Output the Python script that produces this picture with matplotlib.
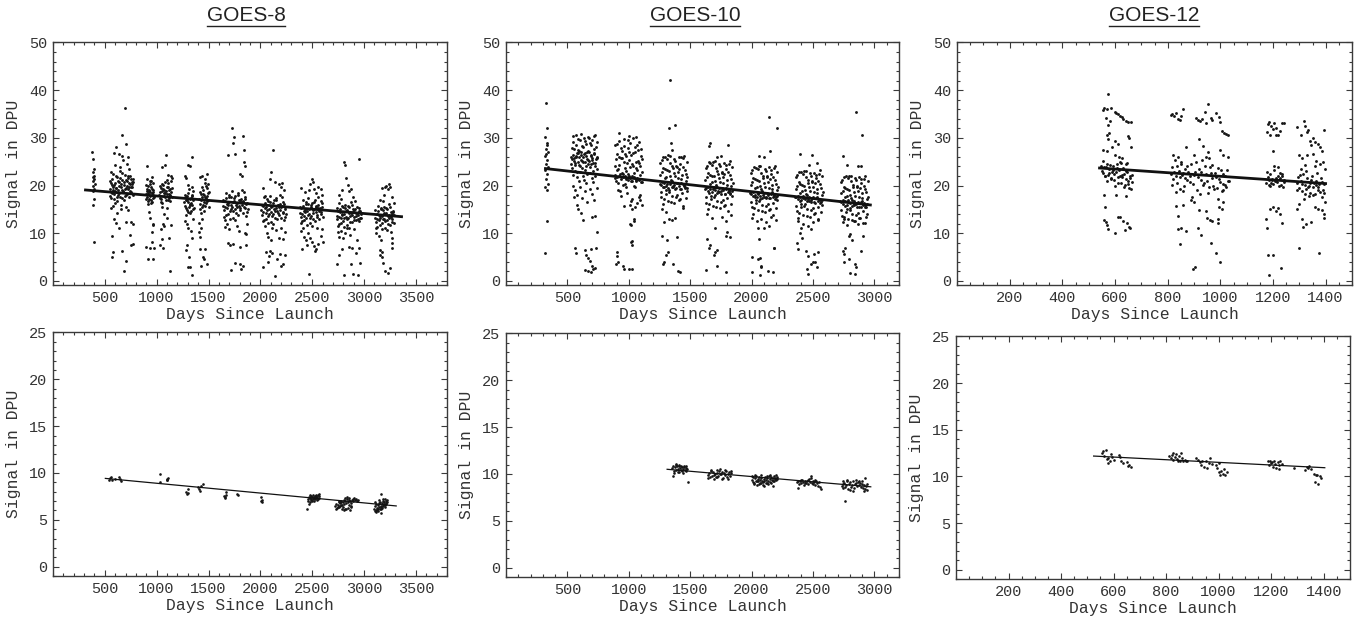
import matplotlib
matplotlib.use("Agg")
import matplotlib.pyplot as plt
from matplotlib.ticker import MultipleLocator
from matplotlib.lines import Line2D

# ---------------- data (days since launch, signal in DPU) ----------------
titles = ["GOES-8", "GOES-10", "GOES-12"]
xlabel_text = "Days Since Launch"
ylabel_text = "Signal in DPU"

g8_top_pts = [
    # ~380 d
    (380,27.0),(386,25.5),(392,23.4),(383,22.8),(398,22.1),(389,21.7),(395,21.3),(381,20.9),(401,20.4),(387,20.0),
    (393,19.3),(384,18.8),(399,17.1),(390,16.0),(396,8.2),
    # ~650 d
    (545,19.2),(552,17.8),(560,20.6),(566,18.4),(573,21.3),(579,19.6),(586,17.1),(592,20.2),(599,18.8),(605,22.1),
    (612,19.4),(618,16.7),(625,20.9),(631,18.1),(638,19.9),(644,21.6),(651,17.5),(657,20.4),(664,19.0),(670,22.7),
    (677,18.6),(683,20.8),(690,19.3),(696,17.9),(703,21.1),(709,20.0),(716,18.3),(722,21.9),(729,19.7),(735,20.5),
    (742,18.9),(748,21.4),(755,19.8),(761,20.3),(768,18.0),(774,20.7),
    (548,21.0),(556,18.7),(563,17.4),(570,20.1),(576,19.1),(583,22.5),(589,18.2),(596,16.4),(602,20.6),(609,19.5),
    (615,21.8),(622,17.7),(628,19.0),(635,20.8),(641,18.5),(648,23.0),(654,19.6),(661,17.3),(667,21.2),(674,18.9),
    (680,20.2),(687,16.9),(693,22.3),(700,19.4),(706,18.1),(713,20.9),(719,21.5),(726,19.2),(732,17.6),(739,20.4),
    (745,22.0),(752,18.6),(758,20.7),(765,19.8),(771,21.3),
    (585,26.8),(612,28.0),(600,24.4),(640,26.6),(663,26.2),(668,30.7),(690,36.3),(702,28.8),(678,25.3),(722,25.9),
    (650,23.8),(735,23.5),(560,15.2),(575,15.8),(590,13.0),(612,12.2),(640,11.0),(565,9.5),(700,12.4),(738,9.6),
    (752,7.5),(748,12.3),(578,6.0),(572,5.0),(662,6.3),(688,2.0),(702,4.1),(767,7.8),(620,14.3),(660,15.1),
    (725,14.8),(770,12.0),(655,16.0),(700,15.5),(560,22.8),(710,24.6),
    # ~930 d
    (896,18.2),(903,17.5),(910,19.3),(917,16.8),(924,18.9),(931,20.4),(938,17.9),(945,19.6),(952,18.4),(959,16.5),
    (966,19.0),(972,17.7),(899,20.1),(906,18.8),(913,16.2),(920,19.9),(927,17.2),(934,18.6),(941,21.0),(948,17.0),
    (955,19.2),(962,18.0),(969,20.6),(900,17.1),(915,18.5),(930,19.1),(945,16.4),(960,18.7),(968,17.3),(908,21.3),
    (936,20.9),
    (905,24.1),(955,21.8),(925,14.4),(940,13.3),(960,12.0),(965,11.7),(898,7.2),(950,10.3),(958,8.2),(935,7.0),
    (960,4.7),(912,4.5),(970,6.9),
    # ~1090 d
    (1025,18.1),(1032,17.3),(1039,19.4),(1046,16.6),(1053,18.8),(1060,20.2),(1067,17.8),(1074,19.1),(1081,18.5),
    (1088,16.9),(1095,19.8),(1102,18.3),(1109,20.6),(1116,17.4),(1123,19.0),(1130,18.0),(1137,20.9),(1144,17.7),
    (1150,19.5),(1028,19.9),(1035,18.6),(1042,17.1),(1049,20.4),(1056,16.3),(1063,19.2),(1070,18.4),(1077,20.8),
    (1084,17.6),(1091,18.9),(1098,21.2),(1105,17.0),(1112,19.6),(1119,18.2),(1126,16.8),(1133,19.3),(1140,18.7),
    (1147,21.5),
    (1050,23.9),(1085,24.3),(1090,26.4),(1110,22.3),(1140,22.1),(1048,15.5),(1075,14.0),(1100,13.2),(1060,12.0),
    (1070,11.5),(1045,10.8),(1055,8.8),(1120,9.1),(1140,11.8),(1035,7.5),(1065,7.0),(1130,2.0),(1100,15.2),
    # ~1310 d
    (1268,16.5),(1275,15.8),(1282,17.6),(1289,14.9),(1296,16.9),(1303,18.4),(1310,15.6),(1317,17.2),(1324,16.2),
    (1331,14.6),(1338,17.9),(1345,16.0),(1352,18.8),(1358,15.3),(1271,18.0),(1278,16.9),(1285,15.2),(1292,17.8),
    (1299,14.4),(1306,16.6),(1313,19.3),(1320,15.9),(1327,17.4),(1334,16.3),(1341,19.7),(1348,15.0),(1355,17.0),
    (1280,13.8),(1300,20.1),(1325,14.2),(1340,18.1),
    (1275,22.0),(1300,24.4),(1345,26.0),(1320,24.0),(1285,21.5),(1270,12.5),(1300,11.0),(1330,10.4),(1290,7.6),
    (1280,6.5),(1310,5.0),(1325,3.0),(1345,9.0),(1340,1.3),(1305,2.9),(1350,13.0),(1295,12.0),
    # ~1460 d
    (1412,17.1),(1419,16.2),(1426,18.3),(1433,15.4),(1440,17.6),(1447,19.0),(1454,16.5),(1461,18.0),(1468,15.8),
    (1475,17.3),(1482,19.5),(1489,16.7),(1496,18.4),(1503,15.6),(1415,18.7),(1422,15.0),(1429,17.0),(1436,19.6),
    (1443,16.0),(1450,18.2),(1457,14.7),(1464,17.5),(1471,19.9),(1478,16.3),(1485,17.9),(1492,20.3),(1499,16.9),
    (1505,18.6),(1430,14.2),(1465,20.6),
    (1420,21.8),(1440,22.1),(1470,21.3),(1490,22.5),(1410,12.2),(1425,11.0),(1415,9.3),(1440,13.0),(1420,6.8),
    (1470,6.8),(1450,5.0),(1430,3.2),(1460,4.5),(1485,3.6),(1410,10.3),
    # ~1750 d
    (1640,15.8),(1648,14.9),(1656,16.7),(1664,13.8),(1672,17.3),(1680,15.2),(1688,16.4),(1696,18.1),(1704,14.6),
    (1712,16.0),(1720,17.5),(1728,15.5),(1736,13.2),(1744,16.8),(1752,15.0),(1760,17.9),(1768,14.3),(1776,16.3),
    (1784,18.4),(1792,15.7),(1800,16.9),(1808,14.8),(1816,17.1),(1824,15.9),(1832,16.6),(1840,18.7),(1848,15.3),
    (1856,17.2),(1864,16.1),(1872,14.5),(1644,17.0),(1652,13.5),(1660,15.4),(1668,18.5),(1676,16.2),(1684,14.0),
    (1692,15.9),(1700,17.7),(1708,13.0),(1716,15.1),(1724,18.9),(1732,16.6),(1740,14.7),(1748,17.4),(1756,12.8),
    (1764,16.0),(1772,15.6),(1780,18.0),(1788,13.9),(1796,17.0),(1804,15.2),(1812,16.5),(1820,19.0),(1828,14.2),
    (1836,16.8),(1844,15.4),(1852,17.6),(1860,13.6),(1868,16.4),(1876,15.0),
    (1690,26.5),(1730,32.1),(1740,29.0),(1760,26.6),(1745,30.2),(1800,22.5),(1820,22.0),(1835,30.4),(1840,27.5),
    (1845,25.0),(1848,24.0),(1680,12.0),(1700,10.8),(1660,11.3),(1710,7.6),(1740,7.8),(1790,10.5),(1805,7.2),
    (1850,10.1),(1860,7.6),(1690,8.0),(1720,2.2),(1760,3.8),(1800,3.5),(1815,2.5),(1830,3.2),(1660,12.8),
    (1775,11.5),(1865,9.8),(1870,12.0),
    # ~2120 d
    (2010,14.8),(2018,13.9),(2026,15.7),(2034,12.8),(2042,16.3),(2050,14.2),(2058,15.4),(2066,17.1),(2074,13.6),
    (2082,15.0),(2090,16.5),(2098,14.5),(2106,12.4),(2114,15.8),(2122,14.0),(2130,16.9),(2138,13.3),(2146,15.3),
    (2154,17.4),(2162,14.7),(2170,15.9),(2178,13.8),(2186,16.1),(2194,14.9),(2202,15.6),(2210,17.7),(2218,14.3),
    (2226,16.2),(2234,15.1),(2242,13.5),(2014,16.0),(2022,12.6),(2030,14.4),(2038,17.5),(2046,15.2),(2054,13.0),
    (2062,14.9),(2070,16.7),(2078,12.2),(2086,14.1),(2094,17.9),(2102,15.6),(2110,13.7),(2118,16.4),(2126,12.0),
    (2134,15.0),(2142,14.6),(2150,17.0),(2158,12.9),(2166,16.0),(2174,14.2),(2182,15.5),(2190,18.0),(2198,13.2),
    (2206,15.8),(2214,14.4),(2222,16.6),(2230,12.7),(2238,15.4),(2246,14.0),
    (2025,19.5),(2040,17.8),(2090,21.3),(2105,22.9),(2120,27.5),(2140,20.8),(2175,20.4),(2195,19.8),(2210,20.6),
    (2230,19.0),(2040,11.5),(2060,10.0),(2075,9.2),(2100,8.5),(2115,11.0),(2150,10.6),(2180,9.0),(2200,11.2),
    (2220,8.8),(2050,6.0),(2030,3.0),(2080,5.2),(2110,5.8),(2140,1.1),(2160,4.5),(2190,5.6),(2200,3.2),(2220,3.6),
    (2235,5.4),(2070,4.0),(2090,6.2),(2240,10.2),
    # ~2490 d
    (2380,14.2),(2388,13.4),(2396,15.3),(2404,12.5),(2412,15.8),(2420,13.7),(2428,14.9),(2436,16.6),(2444,13.1),
    (2452,14.6),(2460,16.1),(2468,14.0),(2476,12.2),(2484,15.4),(2492,13.6),(2500,16.4),(2508,13.0),(2516,15.0),
    (2524,16.9),(2532,14.4),(2540,15.6),(2548,13.5),(2556,15.9),(2564,14.7),(2572,15.2),(2580,16.7),(2588,14.1),
    (2596,15.5),(2384,15.6),(2392,12.1),(2400,14.0),(2408,17.0),(2416,14.7),(2424,12.7),(2432,14.4),(2440,16.2),
    (2448,11.8),(2456,13.8),(2464,17.4),(2472,15.1),(2480,13.3),(2488,16.0),(2496,11.6),(2504,14.8),(2512,14.3),
    (2520,16.6),(2528,12.6),(2536,15.7),(2544,13.9),(2552,15.3),(2560,17.5),(2568,13.0),(2576,15.0),(2584,14.5),
    (2592,16.3),(2600,13.4),
    (2395,19.5),(2430,18.6),(2465,19.0),(2480,20.3),(2495,21.4),(2505,20.8),(2520,19.2),(2540,18.5),(2560,19.8),
    (2585,19.3),(2595,18.0),(2390,10.5),(2410,11.2),(2420,9.3),(2440,8.5),(2460,10.0),(2480,9.0),(2500,8.1),
    (2520,7.4),(2540,6.8),(2560,7.8),(2580,9.5),(2600,8.2),(2400,6.8),(2450,7.5),(2470,1.5),(2530,6.2),(2550,11.0),
    (2590,10.8),
    # ~2850 d
    (2735,13.7),(2743,12.9),(2751,14.6),(2759,11.9),(2767,15.0),(2775,13.2),(2783,14.1),(2791,15.8),(2799,12.6),
    (2807,14.0),(2815,15.3),(2823,13.5),(2831,11.7),(2839,14.8),(2847,13.1),(2855,15.6),(2863,12.4),(2871,14.3),
    (2879,15.9),(2887,13.9),(2895,14.5),(2903,12.8),(2911,15.1),(2919,14.2),(2927,13.6),(2935,15.4),(2943,13.0),
    (2951,14.7),(2959,13.3),(2967,14.0),(2739,15.2),(2747,11.6),(2755,13.5),(2763,16.3),(2771,14.4),(2779,12.2),
    (2787,13.8),(2795,15.5),(2803,11.4),(2811,13.3),(2819,16.0),(2827,14.6),(2835,12.9),(2843,15.7),(2851,11.2),
    (2859,14.2),(2867,13.7),(2875,16.5),(2883,12.3),(2891,15.0),(2899,13.4),(2907,14.9),(2915,16.8),(2923,12.7),
    (2931,14.3),(2939,13.8),(2947,15.3),(2955,12.5),(2963,14.6),(2971,13.2),
    (2760,18.0),(2780,17.2),(2790,19.0),(2805,25.0),(2815,24.4),(2830,21.5),(2845,20.2),(2855,18.8),(2870,19.2),
    (2890,17.5),(2955,25.6),(2745,10.2),(2760,9.3),(2780,10.5),(2800,8.9),(2820,10.0),(2840,11.0),(2860,9.6),
    (2880,7.0),(2900,10.8),(2930,8.5),(2950,7.0),(2740,3.5),(2755,5.4),(2790,6.8),(2810,1.2),(2850,7.1),(2870,3.5),
    (2890,1.5),(2940,1.3),(2920,5.8),(2960,3.8),
    # ~3200 d
    (3105,13.2),(3113,12.4),(3121,14.1),(3129,11.4),(3137,14.6),(3145,12.8),(3153,13.7),(3161,15.3),(3169,12.1),
    (3177,13.6),(3185,14.9),(3193,13.0),(3201,11.2),(3209,14.3),(3217,12.7),(3225,15.1),(3233,12.0),(3241,13.9),
    (3249,15.5),(3257,13.4),(3265,14.0),(3273,12.3),(3281,14.7),(3289,13.8),(3109,14.8),(3117,11.0),(3125,13.0),
    (3133,15.8),(3141,13.9),(3149,11.7),(3157,13.3),(3165,15.0),(3173,10.8),(3181,12.9),(3189,15.6),(3197,14.2),
    (3205,12.5),(3213,15.3),(3221,10.6),(3229,13.6),(3237,13.1),(3245,16.1),(3253,11.8),(3261,14.5),(3269,12.9),
    (3277,14.4),(3285,16.3),(3293,12.2),
    (3150,17.0),(3170,19.5),(3190,18.1),(3200,19.6),(3215,20.0),(3230,19.2),(3245,20.4),(3255,19.8),(3265,17.5),
    (3180,16.8),(3120,10.0),(3140,9.5),(3160,8.6),(3270,9.0),(3260,10.2),(3155,6.5),(3150,5.5),(3170,5.0),
    (3180,3.8),(3200,2.0),(3230,1.6),(3250,2.8),(3270,7.0),(3265,8.0),(3170,6.0),
]

g10_top_pts = [
    # ~330 d
    (322,37.3),(330,32.0),(318,30.1),(335,28.4),(326,27.6),(340,27.0),(315,26.2),(332,25.3),(328,24.5),(338,23.8),
    (320,23.2),(335,22.5),(326,21.4),(342,20.3),(318,19.6),(330,19.0),(336,12.5),(316,5.8),(333,29.0),(324,26.7),
    # ~640 d
    (530,24.6),(536,27.9),(542,22.3),(548,30.4),(554,25.8),(560,23.1),(566,28.6),(572,26.2),(578,21.7),(584,29.8),
    (590,24.9),(596,27.3),(602,22.8),(608,30.9),(614,25.4),(620,23.6),(626,28.1),(632,26.7),(638,21.2),(644,29.3),
    (650,24.2),(656,27.0),(662,22.5),(668,30.2),(674,25.1),(680,23.9),(686,28.9),(692,26.4),(698,21.5),(704,29.6),
    (710,24.7),(716,27.6),(722,22.0),(728,30.6),(734,25.6),(740,23.4),
    (533,26.0),(539,23.7),(545,29.1),(551,25.2),(557,27.7),(563,24.4),(569,30.7),(575,26.8),(581,22.9),(587,27.4),
    (593,25.9),(599,29.5),(605,24.0),(611,26.5),(617,28.3),(623,21.9),(629,25.0),(635,30.0),(641,26.9),(647,23.3),
    (653,28.7),(659,25.5),(665,27.2),(671,24.6),(677,29.9),(683,22.7),(689,26.1),(695,28.5),(701,25.3),(707,23.0),
    (713,30.3),(719,26.6),(725,24.8),(731,28.0),(737,25.7),(743,29.2),
    (535,25.5),(547,26.4),(559,24.8),(571,25.9),(583,26.9),(595,24.3),(607,27.1),(619,25.2),(631,26.0),(643,24.9),
    (655,26.3),(667,25.4),(679,27.0),(691,24.5),(703,25.8),(715,26.8),(727,24.1),(739,25.9),
    (545,20.0),(560,19.0),(580,18.0),(600,19.6),(620,17.4),(640,18.8),(660,16.5),(680,19.2),(700,18.2),(720,17.0),
    (740,19.5),(555,17.5),(575,16.0),(590,15.0),(610,14.3),(630,12.7),(700,13.5),(725,13.6),(740,10.2),(560,7.0),
    (570,5.8),(640,6.4),(655,5.5),(670,4.8),(680,4.2),(690,6.8),(700,3.2),(712,2.5),(665,2.0),(690,1.8),(640,2.3),
    (725,2.7),(730,6.9),(595,21.0),(650,20.5),(710,20.8),
    # ~1000 d
    (885,24.2),(891,28.4),(897,21.0),(903,26.6),(909,19.1),(915,23.5),(921,29.3),(927,22.4),(933,25.7),(939,17.8),
    (945,27.3),(951,21.8),(957,24.9),(963,29.8),(969,20.4),(975,26.1),(981,23.0),(987,18.5),(993,27.8),(999,22.1),
    (1005,25.3),(1011,28.9),(1017,20.9),(1023,24.5),(1029,17.2),(1035,26.9),(1041,22.7),(1047,28.0),(1053,19.7),
    (1059,25.0),(1065,23.3),(1071,27.5),(1077,21.4),(1083,29.1),(1089,24.0),(1095,18.1),(1101,26.3),(1107,22.9),
    (888,21.6),(894,25.5),(900,23.2),(906,28.8),(912,20.6),(918,26.0),(924,24.3),(930,18.9),(936,27.9),(942,22.6),
    (948,25.8),(954,20.2),(960,28.2),(966,23.7),(972,26.7),(978,19.8),(984,24.7),(990,29.5),(996,21.2),(1002,27.0),
    (1008,23.9),(1014,16.8),(1020,26.4),(1026,22.0),(1032,29.9),(1038,24.1),(1044,20.0),(1050,27.1),(1056,23.6),
    (1062,21.1),(1068,28.6),(1074,25.2),(1080,17.6),(1086,24.8),(1092,22.3),(1098,27.6),(1104,20.7),(1110,25.6),
    (890,22.2),(905,21.7),(920,22.0),(935,21.4),(950,22.5),(965,21.9),(980,21.3),(995,22.4),(1010,21.6),(1025,21.0),
    (1040,21.8),(1055,20.9),(1070,21.5),(1085,21.2),(1100,20.8),
    (920,31.0),(1000,30.4),(1060,30.2),(1010,16.0),(1050,15.5),(1070,16.3),(1030,15.0),(1040,13.0),(1045,12.5),
    (1020,11.8),(1010,11.9),(1030,8.4),(1025,7.5),(1015,8.2),(900,6.0),(905,5.2),(910,4.0),(895,3.5),(950,3.2),
    (960,2.4),(1000,2.5),(1030,2.6),(1110,16.0),(1095,17.0),(960,15.8),
    # ~1360 d
    (1252,20.4),(1258,24.7),(1264,17.5),(1270,22.9),(1276,16.1),(1282,26.0),(1288,19.6),(1294,23.4),(1300,18.3),
    (1306,21.8),(1312,25.5),(1318,16.8),(1324,23.0),(1330,19.1),(1336,26.3),(1342,21.2),(1348,17.9),(1354,24.2),
    (1360,20.0),(1366,22.6),(1372,16.4),(1378,25.1),(1384,19.4),(1390,23.8),(1396,18.0),(1402,21.6),(1408,26.0),
    (1414,17.1),(1420,24.5),(1426,20.6),(1432,22.2),(1438,15.8),(1444,25.7),(1450,19.9),(1456,23.3),(1462,17.3),
    (1468,21.0),(1474,24.9),
    (1255,22.3),(1261,18.6),(1267,25.3),(1273,20.7),(1279,23.7),(1285,17.2),(1291,21.5),(1297,25.9),(1303,19.0),
    (1309,23.2),(1315,20.3),(1321,26.4),(1327,18.7),(1333,22.0),(1339,24.8),(1345,16.6),(1351,20.9),(1357,23.6),
    (1363,19.7),(1369,25.6),(1375,21.9),(1381,17.7),(1387,24.0),(1393,20.5),(1399,22.8),(1405,16.9),(1411,23.5),
    (1417,19.3),(1423,25.9),(1429,21.3),(1435,18.4),(1441,23.9),(1447,20.2),(1453,26.1),(1459,19.5),(1465,22.5),
    (1471,18.9),(1477,21.7),
    (1260,20.2),(1275,19.8),(1290,20.6),(1305,20.0),(1320,19.5),(1335,20.4),(1350,19.7),(1365,20.1),(1380,19.3),
    (1395,20.5),(1410,19.9),(1425,19.2),(1440,20.3),(1455,19.6),(1470,19.4),
    (1335,42.2),(1330,32.0),(1380,32.6),(1345,29.0),(1350,27.5),(1270,15.0),(1300,14.5),(1330,13.0),(1350,12.7),
    (1380,13.2),(1290,12.3),(1270,9.4),(1310,8.6),(1300,5.5),(1320,6.0),(1290,4.0),(1275,3.6),(1360,3.6),(1390,9.2),
    (1400,2.0),(1420,1.8),(1445,15.2),
    # ~1730 d
    (1620,19.3),(1626,23.6),(1632,16.4),(1638,21.8),(1644,15.0),(1650,24.9),(1656,18.5),(1662,22.3),(1668,17.2),
    (1674,20.7),(1680,24.4),(1686,15.7),(1692,21.9),(1698,18.0),(1704,25.2),(1710,20.1),(1716,16.8),(1722,23.1),
    (1728,18.9),(1734,21.5),(1740,15.3),(1746,24.0),(1752,18.3),(1758,22.7),(1764,17.0),(1770,20.5),(1776,24.8),
    (1782,16.0),(1788,23.4),(1794,19.5),(1800,21.1),(1806,14.7),(1812,24.6),(1818,18.8),(1824,22.2),(1830,16.2),
    (1836,19.9),(1842,23.8),
    (1623,21.2),(1629,17.5),(1635,24.2),(1641,19.6),(1647,22.6),(1653,16.1),(1659,20.4),(1665,24.7),(1671,17.9),
    (1677,22.1),(1683,19.2),(1689,25.0),(1695,17.6),(1701,20.9),(1707,23.7),(1713,15.5),(1719,19.8),(1725,22.5),
    (1731,18.6),(1737,24.5),(1743,20.8),(1749,16.6),(1755,22.9),(1761,19.4),(1767,21.7),(1773,15.8),(1779,22.4),
    (1785,18.2),(1791,24.3),(1797,20.2),(1803,17.3),(1809,22.8),(1815,19.1),(1821,25.1),(1827,18.4),(1833,21.4),
    (1839,17.8),(1845,20.6),
    (1630,19.4),(1645,18.9),(1660,19.2),(1675,18.6),(1690,19.7),(1705,19.0),(1720,18.4),(1735,19.5),(1750,18.8),
    (1765,19.1),(1780,18.3),(1795,19.3),(1810,18.7),(1825,18.2),(1840,18.9),
    (1660,29.0),(1655,28.3),(1810,28.5),(1720,26.0),(1750,26.3),(1640,14.0),(1680,13.2),(1700,11.0),(1760,13.5),
    (1790,12.5),(1830,13.8),(1800,10.2),(1795,9.5),(1820,9.3),(1640,8.7),(1660,7.5),(1650,7.0),(1690,5.5),
    (1700,6.0),(1715,3.2),(1630,2.3),(1790,1.8),(1720,6.5),
    # ~2100 d
    (1988,18.4),(1994,22.6),(2000,15.5),(2006,20.8),(2012,14.1),(2018,23.9),(2024,17.6),(2030,21.3),(2036,16.3),
    (2042,19.7),(2048,23.4),(2054,14.8),(2060,20.9),(2066,17.1),(2072,24.2),(2078,19.2),(2084,15.9),(2090,22.1),
    (2096,18.0),(2102,20.5),(2108,14.4),(2114,23.0),(2120,17.4),(2126,21.7),(2132,16.1),(2138,19.5),(2144,23.8),
    (2150,15.1),(2156,22.4),(2162,18.6),(2168,20.2),(2174,13.8),(2180,23.6),(2186,17.9),(2192,21.2),(2198,15.3),
    (2204,19.0),(2210,22.8),
    (1991,20.2),(1997,16.6),(2003,23.2),(2009,18.7),(2015,21.6),(2021,15.2),(2027,19.4),(2033,23.7),(2039,17.0),
    (2045,21.1),(2051,18.3),(2057,24.0),(2063,16.7),(2069,19.9),(2075,22.7),(2081,14.6),(2087,18.9),(2093,21.5),
    (2099,17.7),(2105,23.5),(2111,19.8),(2117,15.7),(2123,21.9),(2129,18.4),(2135,20.7),(2141,14.9),(2147,21.4),
    (2153,17.3),(2159,23.3),(2165,19.3),(2171,16.4),(2177,21.8),(2183,18.1),(2189,24.1),(2195,17.5),(2201,20.4),
    (2207,16.9),(2213,19.6),
    (1995,18.3),(2010,17.8),(2025,18.1),(2040,17.6),(2055,18.5),(2070,17.9),(2085,17.4),(2100,18.4),(2115,17.7),
    (2130,18.0),(2145,17.3),(2160,18.2),(2175,17.6),(2190,17.1),(2205,17.9),
    (2140,34.3),(2210,32.0),(2150,27.2),(2060,26.3),(2100,26.0),(2000,13.2),(2040,12.5),(2080,13.0),(2120,12.3),
    (2160,13.4),(2200,12.8),(2050,11.0),(2100,11.1),(2140,11.5),(2060,8.7),(2180,7.0),(2185,6.9),(2000,5.0),
    (2050,4.7),(2070,4.9),(2080,3.2),(2075,3.0),(2000,1.8),(2070,1.3),(2130,2.0),(2170,1.9),
    # ~2470 d
    (2355,17.6),(2361,21.7),(2367,14.6),(2373,19.9),(2379,13.3),(2385,22.8),(2391,16.7),(2397,20.4),(2403,15.4),
    (2409,18.8),(2415,22.5),(2421,13.9),(2427,20.0),(2433,16.2),(2439,23.0),(2445,18.3),(2451,15.0),(2457,21.2),
    (2463,17.1),(2469,19.6),(2475,13.5),(2481,22.1),(2487,16.5),(2493,20.8),(2499,15.2),(2505,18.6),(2511,22.7),
    (2517,14.2),(2523,21.5),(2529,17.7),(2535,19.3),(2541,13.0),(2547,22.4),(2553,17.0),(2559,20.3),(2565,14.4),
    (2571,18.1),(2577,21.9),
    (2358,19.3),(2364,15.7),(2370,22.2),(2376,17.8),(2382,20.7),(2388,14.3),(2394,18.5),(2400,22.9),(2406,16.1),
    (2412,20.2),(2418,17.4),(2424,23.1),(2430,15.8),(2436,19.0),(2442,21.8),(2448,13.7),(2454,18.0),(2460,20.6),
    (2466,16.8),(2472,22.6),(2478,18.9),(2484,14.8),(2490,21.0),(2496,17.5),(2502,19.8),(2508,14.0),(2514,20.5),
    (2520,16.4),(2526,22.3),(2532,18.4),(2538,15.5),(2544,20.9),(2550,17.2),(2556,23.2),(2562,16.6),(2568,19.5),
    (2574,16.0),(2580,18.7),
    (2360,17.5),(2375,17.1),(2390,17.7),(2405,16.9),(2420,17.8),(2435,17.2),(2450,16.7),(2465,17.6),(2480,16.9),
    (2495,17.3),(2510,16.5),(2525,17.4),(2540,16.8),(2555,16.4),(2570,17.0),
    (2395,26.7),(2490,26.5),(2470,24.3),(2530,24.8),(2380,12.5),(2420,12.0),(2460,11.5),(2500,12.4),(2540,12.7),
    (2480,10.9),(2400,11.0),(2370,8.0),(2380,6.7),(2390,10.0),(2410,9.0),(2440,6.3),(2460,5.3),(2450,2.6),
    (2455,1.5),(2480,3.5),(2500,4.0),(2510,5.7),(2520,3.9),(2540,6.0),(2530,2.9),
    # ~2840 d
    (2722,16.7),(2728,20.8),(2734,13.6),(2740,18.9),(2746,12.4),(2752,21.8),(2758,15.8),(2764,19.5),(2770,14.4),
    (2776,17.9),(2782,21.5),(2788,13.0),(2794,19.1),(2800,15.3),(2806,22.0),(2812,17.4),(2818,14.1),(2824,20.2),
    (2830,16.2),(2836,18.7),(2842,12.6),(2848,21.1),(2854,15.6),(2860,19.8),(2866,14.3),(2872,17.6),(2878,21.7),
    (2884,13.3),(2890,20.5),(2896,16.8),(2902,18.4),(2908,12.1),(2914,21.4),(2920,16.0),(2926,19.3),(2932,13.4),
    (2938,17.1),(2944,20.9),
    (2725,18.4),(2731,14.8),(2737,21.2),(2743,16.9),(2749,19.7),(2755,13.4),(2761,17.5),(2767,21.9),(2773,15.1),
    (2779,19.2),(2785,16.5),(2791,22.1),(2797,14.9),(2803,18.1),(2809,20.9),(2815,12.8),(2821,17.0),(2827,19.6),
    (2833,15.9),(2839,21.6),(2845,17.8),(2851,13.9),(2857,20.0),(2863,16.6),(2869,18.8),(2875,13.1),(2881,19.4),
    (2887,15.4),(2893,21.3),(2899,17.3),(2905,14.6),(2911,19.9),(2917,16.3),(2923,22.0),(2929,15.6),(2935,18.6),
    (2941,14.0),(2947,17.7),
    (2728,16.6),(2743,16.2),(2758,16.8),(2773,16.0),(2788,16.9),(2803,16.3),(2818,15.8),(2833,16.7),(2848,16.1),
    (2863,16.4),(2878,15.6),(2893,16.5),(2908,15.9),(2923,15.4),(2938,16.2),
    (2850,35.5),(2900,30.5),(2740,26.2),(2780,24.3),(2870,24.2),(2890,24.0),(2750,13.0),(2780,11.8),(2830,12.5),
    (2870,11.9),(2920,12.2),(2800,9.8),(2790,9.5),(2820,8.5),(2760,7.0),(2745,6.2),(2755,5.6),(2890,6.3),
    (2910,9.4),(2750,4.0),(2790,4.5),(2840,3.5),(2850,3.0),(2800,1.6),(2845,1.5),
]

g12_top_pts = [
    # ~600 d
    (548,24.2),(553,22.6),(558,23.8),(563,21.9),(568,24.6),(573,22.3),(578,23.4),(583,21.5),(588,22.8),(593,24.0),
    (598,21.2),(603,22.9),(608,23.6),(613,20.6),(618,22.1),(623,24.8),(628,21.7),(633,22.5),(638,20.2),(643,23.1),
    (648,21.0),(653,19.5),(658,22.0),(663,20.8),(551,23.0),(556,25.1),(561,22.0),(566,23.9),(571,20.9),(576,22.7),
    (581,24.3),(586,21.3),(591,23.2),(596,22.4),(601,20.0),(606,24.5),(611,21.8),(616,23.3),(621,20.5),(626,22.2),
    (631,23.7),(636,19.8),(641,21.4),(646,22.8),(651,20.3),(656,21.6),(661,19.2),(666,22.3),(645,24.7),(618,25.0),
    (575,39.3),(560,36.3),(570,36.0),(553,35.8),(585,36.2),(600,35.5),(605,35.2),(612,35.0),(618,34.6),(625,34.4),
    (632,33.9),(640,33.5),(648,33.4),(660,33.3),(565,34.2),(572,32.8),(580,33.5),(578,31.0),(568,30.6),(575,29.8),
    (600,29.3),(610,28.7),(555,27.4),(570,27.3),(600,26.5),(615,26.0),(625,25.8),(640,24.6),(650,30.4),(655,30.0),
    (660,28.1),(590,28.0),
    (560,18.0),(563,15.5),(560,12.8),(565,12.3),(570,11.8),(575,10.8),(600,10.0),(610,13.5),(620,13.4),(630,12.5),
    (638,10.6),(645,12.2),(652,11.3),(658,11.0),(605,18.0),(640,17.8),
    # ~840 d
    (812,22.5),(817,23.8),(822,21.4),(827,25.3),(832,22.0),(837,20.6),(842,23.1),(847,21.8),(852,24.6),(857,22.7),
    (862,19.9),(867,23.4),(872,21.2),(877,22.9),(815,20.1),(825,22.8),(835,24.2),(845,19.3),(855,22.2),(865,21.6),
    (875,24.0),(820,26.5),(840,26.0),(850,25.0),(830,18.6),(860,18.8),
    # ~960 d
    (883,21.9),(890,24.6),(897,20.3),(904,22.8),(911,19.0),(918,23.5),(925,21.1),(932,25.4),(939,20.6),(946,22.4),
    (953,18.5),(960,23.9),(967,21.5),(974,20.0),(981,22.7),(988,19.5),(995,21.3),(1002,23.2),(1009,20.4),(1016,22.0),
    (1023,19.8),(1030,21.0),(886,20.8),(893,17.5),(900,22.2),(907,25.0),(914,21.7),(921,18.3),(928,22.9),(935,20.2),
    (942,24.1),(949,21.0),(956,19.6),(963,22.6),(970,24.4),(977,19.2),(984,21.8),(991,23.6),(998,20.7),(1005,18.8),
    (1012,22.5),(1019,20.1),(1026,23.3),(1033,20.9),(958,25.8),(990,17.2),(1010,16.5),
    (812,34.8),(818,35.0),(825,34.5),(830,35.3),(838,34.0),(845,33.8),(850,34.6),(860,36.0),(908,34.2),(915,33.8),
    (922,33.5),(930,34.0),(940,35.4),(947,33.2),(955,37.2),(963,34.2),(970,33.8),(985,35.3),(995,34.3),(1000,33.3),
    (1008,31.5),(1015,31.0),(1022,30.8),(1030,30.6),(920,29.8),(935,28.2),(955,27.0),(1000,27.4),(1010,26.5),
    (945,26.0),(1030,26.0),(870,28.0),(900,26.5),
    (830,15.7),(840,13.6),(850,11.0),(860,16.0),(840,10.9),(845,7.8),(870,10.4),(890,17.0),(900,16.5),(915,11.0),
    (920,14.8),(925,9.6),(945,14.6),(950,13.2),(960,12.8),(965,8.0),(970,12.5),(990,12.1),(995,15.5),(1005,15.0),
    (1010,19.0),(985,5.8),(1000,4.0),(905,2.9),(895,2.5),(990,13.0),
    # ~1210 d
    (1175,20.6),(1180,21.8),(1185,20.1),(1190,22.5),(1195,21.2),(1200,20.4),(1205,23.2),(1210,21.0),(1215,20.7),
    (1220,22.1),(1225,21.5),(1230,20.2),(1235,21.9),(1240,20.8),(1178,22.9),(1188,19.9),(1198,21.4),(1208,20.9),
    (1218,23.9),(1228,22.6),(1238,19.7),(1183,21.1),(1203,24.0),(1213,21.6),(1223,20.0),(1193,20.5),(1233,22.4),
    (1243,21.2),
    (1180,33.0),(1185,33.3),(1192,32.5),(1200,31.8),(1205,33.2),(1212,32.0),(1220,30.7),(1228,31.5),(1235,33.1),
    (1240,33.2),(1178,31.3),(1188,30.6),(1210,30.5),(1200,27.3),
    (1175,13.0),(1178,11.0),(1190,15.0),(1200,15.4),(1210,14.6),(1220,15.3),(1225,14.0),(1235,12.2),(1180,5.5),
    (1200,5.5),(1230,2.7),(1185,1.3),
    # ~1340 d
    (1290,20.6),(1295,21.8),(1300,19.5),(1305,20.9),(1310,18.8),(1315,22.4),(1320,20.2),(1325,19.3),(1330,21.5),
    (1335,20.0),(1340,18.5),(1345,21.1),(1350,19.8),(1355,20.5),(1360,18.2),(1365,21.0),(1370,19.6),(1375,20.3),
    (1380,18.7),(1385,20.8),(1390,19.1),(1395,20.4),(1292,19.0),(1302,22.3),(1312,20.4),(1322,18.2),(1332,19.7),
    (1342,20.6),(1352,18.0),(1362,20.1),(1372,19.0),(1382,21.6),(1392,18.4),(1307,23.5),(1327,23.1),(1347,22.0),
    (1367,22.6),(1387,17.7),(1337,17.8),(1317,17.2),
    (1290,32.3),(1305,30.5),(1318,33.5),(1322,32.5),(1328,31.2),(1333,31.6),(1340,29.3),(1345,28.5),(1350,30.0),
    (1360,29.2),(1370,28.8),(1380,28.0),(1385,27.2),(1395,31.6),(1300,26.5),(1310,25.8),(1330,26.4),(1350,26.6),
    (1365,25.2),(1380,24.5),(1390,25.0),(1320,24.3),(1360,24.0),(1398,23.5),
    (1300,16.2),(1310,13.0),(1315,11.3),(1325,12.0),(1345,12.4),(1360,15.5),(1370,15.0),(1385,14.8),(1392,14.0),
    (1395,13.3),(1398,16.5),(1300,7.0),(1375,5.8),(1290,15.0),
]

g8_bot_pts = [
    (540,9.2),(548,9.5),(558,9.6),(565,9.3),(600,9.4),(635,9.6),(645,9.4),(655,9.1),(1030,9.9),(1032,9.0),
    (1095,9.4),(1100,9.2),(1102,9.3),(1105,9.5),(1285,8.0),(1290,7.8),(1300,8.3),(1305,7.9),(1400,8.5),(1410,8.3),
    (1420,8.1),(1430,8.6),(1445,8.8),(1650,7.5),(1655,7.4),(1660,7.3),(1665,7.6),(1670,8.0),(1775,7.8),(1785,7.6),
    (2005,7.4),(2010,7.0),(2012,6.9),(2020,7.1),(2445,6.1),
    (2455,7.2),(2462,7.0),(2468,7.4),(2474,6.9),(2480,7.3),(2486,7.5),(2492,7.1),(2498,7.4),(2504,7.2),(2510,7.6),
    (2516,7.3),(2522,7.0),(2528,7.5),(2534,7.3),(2540,7.7),(2546,7.4),(2552,7.2),(2558,7.6),(2564,7.5),(2570,7.8),
    (2465,6.7),(2477,7.6),(2489,7.2),(2501,7.0),(2513,7.4),(2525,7.2),(2537,7.5),(2549,7.1),(2561,7.3),
    (2722,6.5),(2730,6.7),(2738,6.3),(2746,6.6),(2754,6.9),(2762,6.4),(2770,6.8),(2778,7.0),(2786,6.6),(2794,6.9),
    (2802,7.1),(2810,6.7),(2818,7.0),(2826,6.8),(2834,7.2),(2842,6.9),(2850,7.1),(2858,7.3),(2866,7.0),(2874,6.8),
    (2882,7.1),(2890,7.2),(2898,7.0),(2906,7.3),(2914,7.1),(2922,7.2),(2930,7.0),
    (2734,6.2),(2750,6.4),(2766,6.5),(2782,6.6),(2798,6.4),(2814,6.2),(2830,6.1),(2846,6.3),(2862,6.0),(2878,6.4),
    (2790,6.2),(2806,6.0),(2760,7.0),(2776,6.9),(2820,7.3),(2840,7.4),(2854,6.6),(2870,6.5),(2940,7.1),
    (3100,6.2),(3106,6.5),(3112,6.0),(3118,6.7),(3124,6.3),(3130,6.6),(3136,6.1),(3142,6.8),(3148,6.4),(3154,6.9),
    (3160,6.5),(3166,6.2),(3172,6.8),(3178,6.6),(3184,7.0),(3190,6.7),(3196,6.9),(3202,6.6),(3208,7.0),(3214,6.8),
    (3220,7.1),(3226,6.9),(3103,5.9),(3115,5.8),(3127,6.0),(3139,5.9),(3151,6.2),(3163,6.4),(3175,6.3),(3187,6.5),
    (3199,6.4),(3211,6.7),(3160,7.8),(3168,5.7),(3145,7.1),(3180,7.2),(3110,6.9),(3205,7.2),
]

g10_bot_pts = [
    (1355,10.6),(1362,10.9),(1368,10.3),(1375,10.7),(1381,11.0),(1388,10.4),(1394,10.8),(1400,10.5),(1406,10.9),
    (1412,10.2),(1418,10.6),(1425,10.8),(1431,10.3),(1437,10.7),(1444,10.5),(1450,10.9),(1456,10.4),(1462,10.6),
    (1468,10.3),(1474,10.5),(1358,9.8),(1372,10.1),(1386,11.1),(1398,10.2),(1410,11.0),(1422,10.4),(1440,10.1),
    (1452,10.7),(1466,10.8),(1480,9.1),
    (1642,9.9),(1650,10.1),(1658,9.7),(1666,10.3),(1674,9.8),(1682,10.2),(1690,9.9),(1698,10.0),(1706,9.7),
    (1714,10.1),(1722,10.4),(1730,9.8),(1738,10.3),(1746,10.5),(1754,10.0),(1762,10.2),(1770,9.6),(1778,10.1),
    (1786,9.9),(1794,10.3),(1802,9.7),(1810,10.0),(1818,10.2),(1826,9.8),(1834,10.1),(1646,9.6),(1670,10.4),
    (1694,9.5),(1718,9.7),(1742,10.0),(1758,9.5),(1782,10.4),(1806,9.5),(1830,10.3),
    (2002,9.4),(2008,9.1),(2014,9.7),(2020,9.0),(2026,9.6),(2032,9.3),(2038,9.8),(2044,9.2),(2050,9.5),(2056,8.9),
    (2062,9.7),(2068,9.4),(2074,9.0),(2080,9.6),(2086,9.3),(2092,8.8),(2098,9.5),(2104,9.2),(2110,9.7),(2116,9.4),
    (2122,9.0),(2128,9.6),(2134,9.3),(2140,9.8),(2146,9.5),(2152,9.1),(2158,9.7),(2164,9.4),(2170,9.6),(2176,9.3),
    (2182,9.8),(2188,9.5),(2194,9.6),(2200,9.4),(2206,9.7),(2005,9.8),(2017,8.9),(2029,9.9),(2041,8.8),(2053,9.2),
    (2065,9.0),(2077,9.9),(2089,9.1),(2101,8.7),(2113,9.0),(2125,9.8),(2137,8.9),(2149,9.9),(2161,9.0),(2173,8.7),
    (2185,9.2),(2197,9.9),(2209,9.5),
    (2372,9.1),(2380,9.3),(2388,8.9),(2396,9.2),(2404,9.0),(2412,9.4),(2420,9.1),(2428,8.8),(2436,9.3),(2444,9.0),
    (2452,9.2),(2460,8.9),(2468,9.5),(2476,9.1),(2484,9.8),(2492,9.0),(2500,9.3),(2508,9.1),(2516,8.8),(2524,9.2),
    (2532,9.0),(2540,8.7),(2548,9.1),(2556,8.6),(2564,8.4),(2378,8.5),(2400,9.4),(2432,9.0),(2456,9.4),(2480,9.6),
    (2498,8.9),(2520,9.4),
    (2732,8.7),(2740,8.9),(2748,8.5),(2756,9.0),(2764,8.6),(2772,8.8),(2780,9.2),(2788,8.4),(2796,8.9),(2804,9.1),
    (2812,8.6),(2820,8.8),(2828,9.3),(2836,8.5),(2844,8.9),(2852,9.0),(2860,8.7),(2868,9.1),(2876,8.8),(2884,9.0),
    (2892,8.6),(2900,8.9),(2908,8.5),(2916,8.8),(2924,8.4),(2932,8.7),(2940,8.3),(2760,7.1),(2744,9.3),(2776,9.4),
    (2800,8.3),(2824,8.2),(2848,9.4),(2872,9.3),(2896,9.2),(2920,9.6),(2936,8.9),(2912,8.2),
]

g12_bot_pts = [
    (555,12.5),(560,12.7),(565,12.2),(570,12.8),(575,11.9),(580,12.0),(585,11.6),(590,12.4),(595,12.1),(578,11.4),
    (600,11.8),(620,12.3),(625,12.1),(630,11.6),(635,11.4),(650,11.5),(655,11.1),(660,11.2),(665,11.0),
    (812,12.2),(818,12.0),(822,12.3),(828,11.8),(832,12.1),(838,12.4),(842,11.9),(848,12.2),(852,11.7),(855,12.5),
    (860,12.0),(865,11.6),(870,11.8),(875,11.7),(880,11.6),(828,12.5),(845,11.6),
    (915,12.0),(922,11.8),(928,11.5),(932,11.2),(938,11.6),(945,11.0),(950,11.7),(955,10.9),(962,11.4),(968,12.0),
    (975,11.3),(988,11.2),(995,10.9),(1000,10.5),(1005,10.2),(1010,10.6),(1015,10.3),(1020,10.8),(1025,10.2),
    (1030,10.5),(1000,11.4),
    (1188,11.6),(1192,11.2),(1196,11.7),(1200,11.4),(1205,11.0),(1210,11.6),(1215,11.3),(1220,10.9),(1225,11.5),
    (1230,11.2),(1235,11.6),(1240,11.3),(1228,10.8),(1203,11.5),
    (1285,10.9),(1330,10.7),(1335,11.0),(1340,10.9),(1345,11.1),(1350,10.8),
    (1362,10.3),(1366,9.4),(1370,10.1),(1375,10.2),(1380,9.2),(1385,10.0),(1390,9.8),
]

# fitted trend lines: [(x_start, x_end), (y_start, y_end)]
g8_top_fit = [(300, 3375), (19.1, 13.45)]
g10_top_fit = [(310, 2978), (23.6, 15.9)]
g12_top_fit = [(536, 1405), (23.7, 20.4)]
g8_bot_fit = [(505, 3310), (9.42, 6.48)]
g10_bot_fit = [(1312, 2970), (10.5, 8.63)]
g12_bot_fit = [(524, 1404), (12.18, 10.93)]

x_limits = [(0, 3800), (0, 3200), (0, 1500)]
x_major = [500, 500, 200]
x_minor = [100, 100, 50]

# ---------------- figure ----------------
W, H = 1358, 619
fig = plt.figure(figsize=(W / 100, H / 100), dpi=100)
fig.patch.set_facecolor("white")

MONO = "Liberation Mono"
SANS = "Liberation Sans"
TXT = "#333333"
EDGE = "#3a3a3a"

def px_rect(l, t, r, b):
    return [l / W, 1 - b / H, (r - l) / W, (b - t) / H]

top_rects = [px_rect(53, 42, 447, 285), px_rect(506, 42, 899, 285), px_rect(957, 42, 1352, 285)]
bot_rects = [px_rect(53, 332, 447, 576), px_rect(506, 333, 899, 577), px_rect(956, 336, 1350, 579)]

top_data = [g8_top_pts, g10_top_pts, g12_top_pts]
bot_data = [g8_bot_pts, g10_bot_pts, g12_bot_pts]
top_fits = [g8_top_fit, g10_top_fit, g12_top_fit]
bot_fits = [g8_bot_fit, g10_bot_fit, g12_bot_fit]


def style_axes(ax, i, ymax, ymin, ymaj, ymin_step):
    ax.set_xlim(*x_limits[i])
    ax.set_ylim(ymin, ymax)
    ax.xaxis.set_major_locator(MultipleLocator(x_major[i]))
    ax.xaxis.set_minor_locator(MultipleLocator(x_minor[i]))
    ax.yaxis.set_major_locator(MultipleLocator(ymaj))
    ax.yaxis.set_minor_locator(MultipleLocator(ymin_step))
    ax.tick_params(which="both", direction="in", top=True, right=True,
                   color=EDGE, width=0.8)
    ax.tick_params(which="major", length=4.5, labelsize=11, labelcolor=TXT, pad=4)
    ax.tick_params(which="minor", length=2.2)
    for lab in ax.get_yticklabels():
        lab.set_fontfamily(MONO)
    xt = [t for t in ax.get_xticks() if x_limits[i][0] < t <= x_limits[i][1]]
    ax.set_xticks(xt)
    ax.set_xticklabels([f"{int(t)}" for t in xt], fontfamily=MONO)
    for sp in ax.spines.values():
        sp.set_color(EDGE)
        sp.set_linewidth(1.0)
    ax.set_xlabel(xlabel_text, fontfamily=MONO, fontsize=11.8, color=TXT, labelpad=2)
    ax.set_ylabel(ylabel_text, fontfamily=MONO, fontsize=11.8, color=TXT, labelpad=6)


for i in range(3):
    ax = fig.add_axes(top_rects[i])
    xs, ys = zip(*top_data[i])
    ax.scatter(xs, ys, s=4.2, c="#151515", linewidths=0, zorder=2)
    fx, fy = top_fits[i]
    ax.plot(fx, fy, color="#111111", lw=2.0, solid_capstyle="butt", zorder=3)
    style_axes(ax, i, 50.1, -0.85, 10, 2)

    axb = fig.add_axes(bot_rects[i])
    xs, ys = zip(*bot_data[i])
    axb.scatter(xs, ys, s=3.6, c="#151515", linewidths=0, zorder=2)
    fx, fy = bot_fits[i]
    axb.plot(fx, fy, color="#111111", lw=0.9, zorder=3)
    style_axes(axb, i, 25.05, -1.0, 5, 1)

# titles with underline
title_centers = [246, 695, 1154]
fig.canvas.draw()
renderer = fig.canvas.get_renderer()
for cx, t in zip(title_centers, titles):
    txt = fig.text(cx / W, 1 - 15.5 / H, t, ha="center", va="center",
                   fontfamily=SANS, fontsize=15, color="#222222")
    bb = txt.get_window_extent(renderer=renderer)
    yline = 1 - 26 / H
    fig.add_artist(Line2D([bb.x0 / W, bb.x1 / W], [yline, yline],
                          transform=fig.transFigure, color="#222222", lw=1.0))

fig.savefig("out.png", dpi=100, facecolor="white")
